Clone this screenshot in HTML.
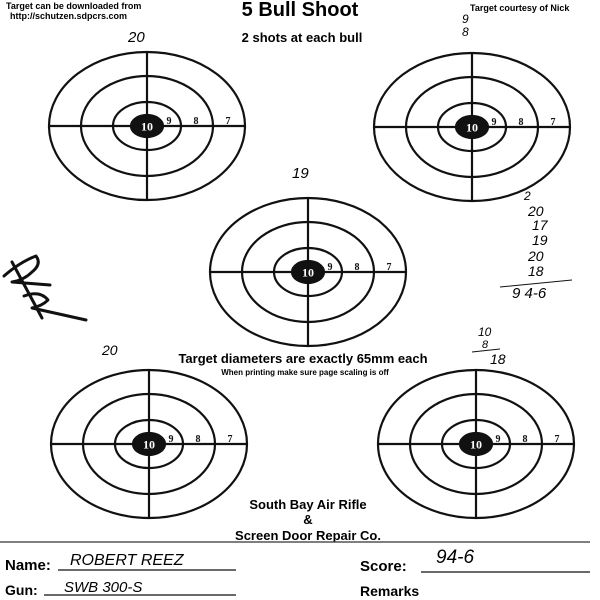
<!DOCTYPE html>
<html><head><style>
html,body{margin:0;padding:0;background:#fff;}
svg{display:block}
.c{font-family:"Liberation Sans",sans-serif;font-weight:bold;}
.h{font-family:"Liberation Sans",sans-serif;font-style:italic;}
</style></head><body>
<svg width="600" height="600" viewBox="0 0 600 600" xmlns="http://www.w3.org/2000/svg">
<defs>
<g id="t" fill="none" stroke="#111" stroke-width="2.2">
<ellipse cx="0" cy="0" rx="98" ry="74"/>
<ellipse cx="0" cy="0" rx="66" ry="50"/>
<ellipse cx="0" cy="0" rx="34" ry="24"/>
<line x1="-98" y1="0" x2="98" y2="0"/>
<line x1="0" y1="-74" x2="0" y2="74"/>
<ellipse cx="0" cy="0" rx="16" ry="11" fill="#111"/>
<text x="0" y="4.5" font-family="Liberation Serif" font-weight="bold" font-size="12" fill="#fff" stroke="none" text-anchor="middle">10</text>
<text x="22" y="-2" font-family="Liberation Serif" font-weight="bold" font-size="10" fill="#111" stroke="none" text-anchor="middle">9</text>
<text x="49" y="-2" font-family="Liberation Serif" font-weight="bold" font-size="10" fill="#111" stroke="none" text-anchor="middle">8</text>
<text x="81" y="-2" font-family="Liberation Serif" font-weight="bold" font-size="10" fill="#111" stroke="none" text-anchor="middle">7</text>
</g>
</defs>
<use href="#t" x="147" y="126"/>
<use href="#t" x="472" y="127"/>
<use href="#t" x="308" y="272"/>
<use href="#t" x="149" y="444"/>
<use href="#t" x="476" y="444"/>

<text class="c" x="6" y="9" font-size="9">Target can be downloaded from</text>
<text class="c" x="10" y="19" font-size="9">http://schutzen.sdpcrs.com</text>
<text class="c" x="300" y="16" font-size="20" text-anchor="middle">5 Bull Shoot</text>
<text class="c" x="302" y="42" font-size="13" text-anchor="middle">2 shots at each bull</text>
<text class="c" x="470" y="11" font-size="9">Target courtesy of Nick</text>
<text class="h" x="128" y="42" font-size="15">20</text>
<text class="h" x="462" y="23" font-size="12">9</text>
<text class="h" x="462" y="36" font-size="12">8</text>
<text class="h" x="292" y="178" font-size="15">19</text>
<text class="h" x="524" y="200" font-size="12">2</text>
<text class="h" x="528" y="216" font-size="14">20</text>
<text class="h" x="532" y="230" font-size="14">17</text>
<text class="h" x="532" y="245" font-size="14">19</text>
<text class="h" x="528" y="261" font-size="14">20</text>
<text class="h" x="528" y="276" font-size="14">18</text>
<line x1="500" y1="287" x2="572" y2="280" stroke="#111" stroke-width="1"/>
<text class="h" x="512" y="298" font-size="15">9 4-6</text>
<text class="h" x="102" y="355" font-size="14">20</text>
<text class="h" x="478" y="336" font-size="12">10</text>
<text class="h" x="482" y="348" font-size="11">8</text>
<line x1="472" y1="352" x2="500" y2="349" stroke="#111" stroke-width="1"/>
<text class="h" x="490" y="364" font-size="14">18</text>
<path d="M4 276 Q20 262 36 256 Q42 264 32 272 Q24 280 12 282 L50 285 M12 262 L42 318 M24 296 Q40 290 48 300 Q42 306 32 308 L86 320" fill="none" stroke="#111" stroke-width="3" stroke-linecap="round" stroke-linejoin="round"/>
<text class="c" x="303" y="363" font-size="13" text-anchor="middle">Target diameters are exactly 65mm each</text>
<text class="c" x="305" y="375" font-size="8" text-anchor="middle">When printing make sure page scaling is off</text>
<text class="c" x="308" y="509" font-size="13" text-anchor="middle" font-weight="normal">South Bay Air Rifle</text>
<text class="c" x="308" y="524" font-size="13" text-anchor="middle">&amp;</text>
<text class="c" x="308" y="540" font-size="13" text-anchor="middle" font-weight="normal">Screen Door Repair Co.</text>
<line x1="0" y1="542" x2="590" y2="542" stroke="#333" stroke-width="1.2"/>
<text class="c" x="5" y="570" font-size="15">Name:</text>
<line x1="58" y1="570" x2="236" y2="570" stroke="#111" stroke-width="1.2"/>
<text class="h" x="70" y="565" font-size="16">ROBERT REEZ</text>
<text class="c" x="5" y="595" font-size="14">Gun:</text>
<line x1="44" y1="595" x2="236" y2="595" stroke="#111" stroke-width="1.2"/>
<text class="h" x="64" y="592" font-size="15">SWB 300-S</text>
<text class="c" x="360" y="571" font-size="15">Score:</text>
<line x1="421" y1="572" x2="590" y2="572" stroke="#111" stroke-width="1.2"/>
<text class="h" x="436" y="563" font-size="19">94-6</text>
<text class="c" x="360" y="596" font-size="14">Remarks</text>
</svg>
</body></html>
